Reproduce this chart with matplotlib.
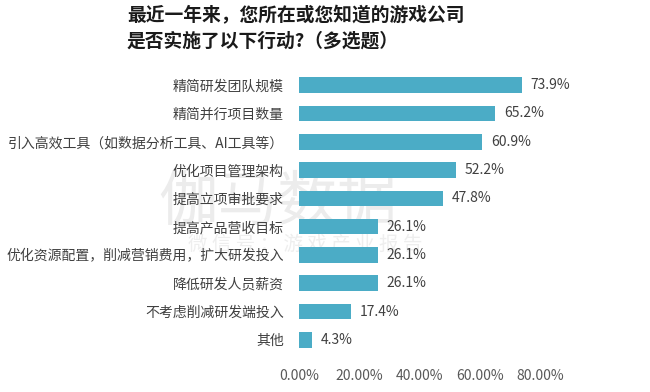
import matplotlib.pyplot as plt
from matplotlib.ticker import FuncFormatter

plt.rcParams['font.family'] = ['Noto Sans CJK SC', 'DejaVu Sans']

# 数据
categories = [
    "精简研发团队规模",
    "精简并行项目数量",
    "引入高效工具（如数据分析工具、AI工具等）",
    "优化项目管理架构",
    "提高立项审批要求",
    "提高产品营收目标",
    "优化资源配置，削减营销费用，扩大研发投入",
    "降低研发人员薪资",
    "不考虑削减研发端投入",
    "其他",
]
values = [0.739, 0.652, 0.609, 0.522, 0.478, 0.261, 0.261, 0.261, 0.174, 0.043]
x_ticks = [0.0, 0.2, 0.4, 0.6, 0.8]

title = "最近一年来，您所在或您知道的游戏公司\n是否实施了以下行动?（多选题）"
BAR_COLOR = "#4BACC6"
TEXT_COLOR = "#404040"

W, H = 650, 392
fig = plt.figure(figsize=(W / 100, H / 100), dpi=100)

# 水印（放在最底层）
fig.text(278 / W, 1 - 203 / H, "伽马数据", fontsize=43, color="#ececec",
         fontweight="light", ha="center", va="center", zorder=-1)
fig.text(305 / W, 1 - 244 / H, "微 信 号 ： 游 戏 产 业 报 告", fontsize=14,
         color="#eeeeee", fontweight="light", ha="center", va="center",
         zorder=-1)

ax = fig.add_axes([299 / W, 1 - 354 / H, 241 / W, (354 - 71) / H])
ax.patch.set_alpha(0)

y = range(len(categories))
bars = ax.barh(y, values, height=0.55, color=BAR_COLOR, zorder=2)
ax.set_ylim(len(categories) - 0.5, -0.5)
ax.set_xlim(0, 0.8)

for bar, v in zip(bars, values):
    ax.text(bar.get_width() + 0.028, bar.get_y() + bar.get_height() / 2,
            f"{v * 100:.1f}%", va="center", ha="left", fontsize=10,
            color=TEXT_COLOR)

ax.set_yticks(list(y))
ax.set_yticklabels(categories, fontsize=10, color=TEXT_COLOR)
ax.set_xticks(x_ticks)
ax.xaxis.set_major_formatter(FuncFormatter(lambda v, p: f"{v * 100:.2f}%"))
ax.tick_params(axis="x", length=0, pad=11, labelsize=10, labelcolor="#595959")
ax.tick_params(axis="y", length=0, pad=11)
for s in ax.spines.values():
    s.set_visible(False)

fig.text(127 / W, 1 - 6 / H, title, fontsize=13.5, fontweight="bold",
         color="#1a1a1a", ha="left", va="top", linespacing=1.45)

fig.savefig("out.png", dpi=100)
